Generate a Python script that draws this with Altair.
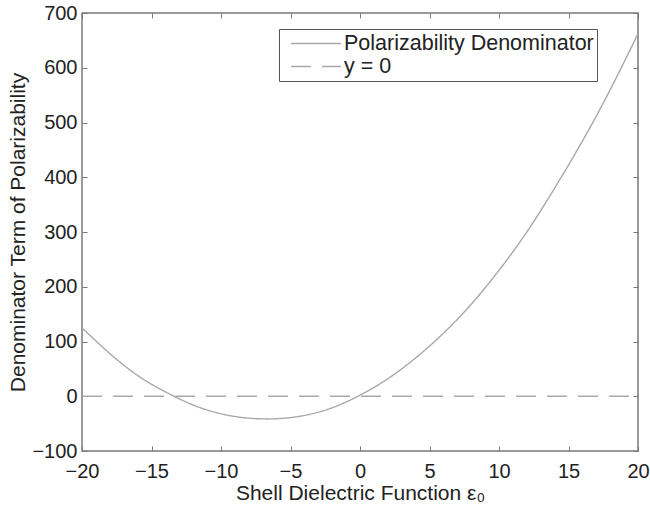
import altair as alt
import pandas as pd

# Values
eps_values = [-20, -18, -16, -14, -12, -10, -8, -6, -4, -2, 0, 2, 4, 6, 8, 10, 12, 14, 16, 18, 20]
denominator = [125, 78, 38, 8, -16, -32, -40, -41, -35, -21, 2, 32, 70, 115, 168, 230, 300, 380, 466, 560, 662]
zero_x = [-20, 20]
zero_y = [0, 0]
series_names = ["Polarizability Denominator", "y = 0"]
x_ticks = [-20, -15, -10, -5, 0, 5, 10, 15, 20]
y_ticks = [-100, 0, 100, 200, 300, 400, 500, 600, 700]

rows = [{"x": a, "y": b, "series": series_names[0]} for a, b in zip(eps_values, denominator)]
rows += [{"x": a, "y": b, "series": series_names[1]} for a, b in zip(zero_x, zero_y)]
df = pd.DataFrame(rows)

FONT = "Liberation Sans"
FRAME = "#7a7a7a"
LINE = "#a8a8a8"
TEXT = "#222222"
FS = 20
TFS = 21

xscale = alt.Scale(domain=[-20, 20], nice=False, zero=False)
yscale = alt.Scale(domain=[-100, 700], nice=False, zero=False)

main = alt.Chart(df).mark_line(color=LINE, strokeWidth=1.4, interpolate="natural", clip=True).encode(
    x=alt.X("x:Q", scale=xscale,
            axis=alt.Axis(orient="bottom", offset=-5, values=x_ticks, tickSize=5, tickColor=FRAME,
                          domain=False, grid=False, labelPadding=10, labelFlush=False,
                          labelFont=FONT, labelFontSize=FS, labelColor=TEXT,
                          title="Shell Dielectric Function ε₀", titleFont=FONT, titleFontSize=TFS,
                          titleFontWeight="normal", titleColor=TEXT, titlePadding=1)),
    y=alt.Y("y:Q", scale=yscale,
            axis=alt.Axis(orient="left", offset=-5, values=y_ticks, tickSize=5, tickColor=FRAME,
                          domain=False, grid=False, labelPadding=5, labelFlush=False,
                          labelFont=FONT, labelFontSize=FS, labelColor=TEXT,
                          title="Denominator Term of Polarizability", titleFont=FONT, titleFontSize=TFS,
                          titleFontWeight="normal", titleColor=TEXT, titlePadding=3)),
    strokeDash=alt.StrokeDash("series:N",
                              scale=alt.Scale(domain=series_names, range=[[1, 0], [20, 11]]),
                              legend=alt.Legend(orient="none", legendX=197, legendY=16, title=None,
                                                strokeColor="#555555", fillColor="white", padding=3,
                                                symbolType="stroke", symbolSize=2500,
                                                symbolStrokeWidth=1.4, symbolStrokeColor=LINE,
                                                symbolOffset=8, labelOffset=2, labelLimit=400,
                                                labelFont=FONT, labelFontSize=21.5, labelColor=TEXT,
                                                clipHeight=23, rowPadding=0)),
)

mirror = alt.Chart(df).mark_line(opacity=0).encode(
    x=alt.X("x:Q", scale=xscale,
            axis=alt.Axis(orient="top", offset=-5, values=x_ticks, tickSize=5, tickColor=FRAME,
                          domain=False, grid=False, labels=False, title=None)),
    y=alt.Y("y:Q", scale=yscale,
            axis=alt.Axis(orient="right", offset=-5, values=y_ticks, tickSize=5, tickColor=FRAME,
                          domain=False, grid=False, labels=False, title=None)),
)

chart = alt.layer(main, mirror).resolve_axis(x="independent", y="independent").properties(
    width=556, height=438,
    autosize=alt.AutoSizeParams(type="none"),
    padding={"left": 82, "top": 13, "right": 12, "bottom": 60},
    background="white",
).configure_view(stroke=FRAME, strokeWidth=1.5)

chart.save("out.html", embed_options={"renderer": "svg", "actions": False})
